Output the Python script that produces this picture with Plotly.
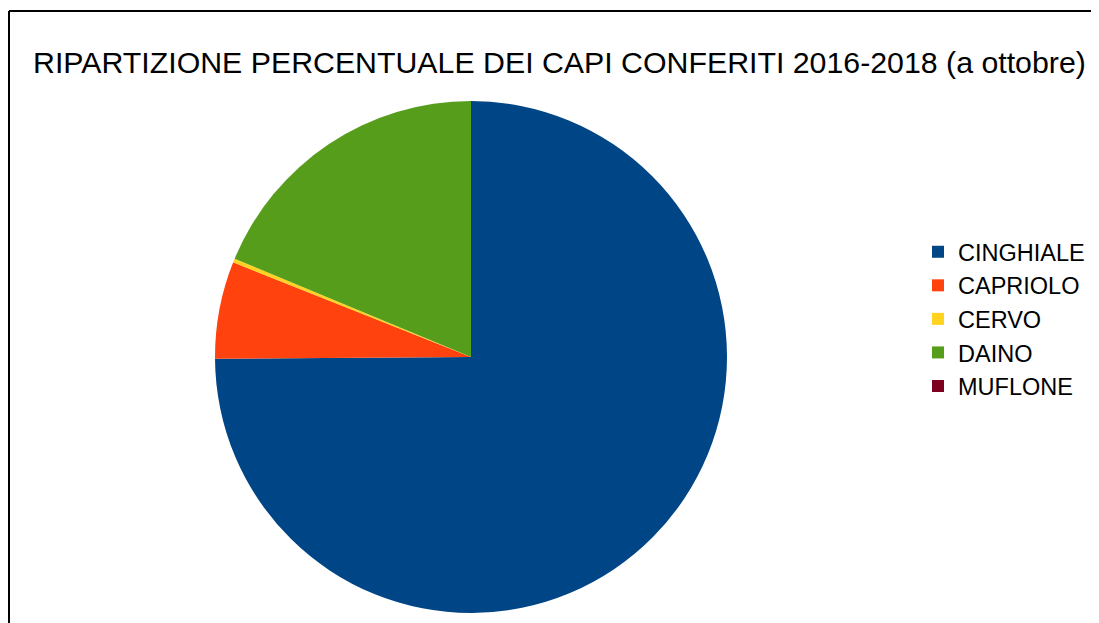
import plotly.graph_objects as go

# the page body has an 8px margin, so the figure is drawn a bit smaller
OFF = 8
W, H = 1099 - OFF, 623 - OFF

specie = ['CINGHIALE', 'CAPRIOLO', 'CERVO', 'DAINO', 'MUFLONE']
percentuali = [74.87, 6.14, 0.25, 18.72, 0.0]
colori = ['#004586', '#ff420e', '#ffd320', '#579d1c', '#7e0021']


def px_x(v):
    return (v - OFF) / W


def px_y(v):
    return 1 - (v - OFF) / H


fig = go.Figure(go.Pie(
    labels=specie,
    values=percentuali,
    marker=dict(colors=colori, line=dict(width=0)),
    sort=False,
    direction='clockwise',
    rotation=0,
    textinfo='none',
    hoverinfo='label+percent',
    domain=dict(x=[px_x(215), px_x(727)], y=[px_y(613), px_y(101)]),
    showlegend=True,
))

# bordo del riquadro (solo lato sinistro e superiore visibili)
fig.add_shape(type='line', xref='paper', yref='paper',
              x0=px_x(9), x1=px_x(1110), y0=px_y(11), y1=px_y(11),
              line=dict(color='black', width=2))
fig.add_shape(type='line', xref='paper', yref='paper',
              x0=px_x(9), x1=px_x(9), y0=px_y(11), y1=px_y(640),
              line=dict(color='black', width=2))

fig.update_layout(
    width=W, height=H,
    margin=dict(l=0, r=0, t=0, b=0),
    paper_bgcolor='white',
    font=dict(family='Liberation Sans, Arial, sans-serif', color='black'),
    title=dict(text='RIPARTIZIONE PERCENTUALE DEI CAPI CONFERITI 2016-2018 (a ottobre)',
               x=px_x(33), xanchor='left', y=px_y(62), yanchor='middle',
               font=dict(size=30.3)),
    legend=dict(x=px_x(918), xanchor='left', y=px_y(230), yanchor='top',
                font=dict(size=23.5), traceorder='normal',
                itemwidth=30, tracegroupgap=0),
)

fig.write_html("out.html")
